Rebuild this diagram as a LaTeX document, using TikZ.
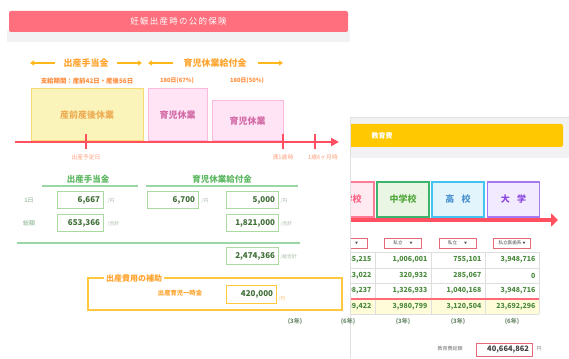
\documentclass[tikz,border=0pt]{standalone}
\usepackage{fontspec}
\setmainfont{Noto Sans CJK JP}
\newfontfamily\spacedfont{Noto Sans CJK JP}[LetterSpace=15]
\usetikzlibrary{arrows.meta}
\newcommand\myfs[1]{\fontsize{#1}{#1}\selectfont}
\definecolor{titleRed}{HTML}{FF6F7D}
\definecolor{arrowOrange}{HTML}{FFB81C}
\definecolor{labOrange}{HTML}{FFA42E}
\definecolor{subOrange}{HTML}{FF8C3C}
\definecolor{yelFill}{HTML}{FBF4BA}
\definecolor{yelBorder}{HTML}{F7DB72}
\definecolor{yelText}{HTML}{EDAD55}
\definecolor{pinkFill}{HTML}{FFE4F6}
\definecolor{pinkBorder}{HTML}{FFB9DF}
\definecolor{pinkText}{HTML}{D26BA6}
\definecolor{lineRed}{HTML}{FF4F60}
\definecolor{axisText}{HTML}{FFA07E}
\definecolor{gHead}{HTML}{5DB862}
\definecolor{gLine}{HTML}{9BD6A5}
\definecolor{gBorder}{HTML}{AAD9A2}
\definecolor{gValue}{HTML}{3F6E37}
\definecolor{gUnit}{HTML}{A3B5A3}
\definecolor{gLabel}{HTML}{7FAF85}
\definecolor{boxOrange}{HTML}{FFC83E}
\definecolor{panelGray}{HTML}{F2F2F5}
\definecolor{eduYellow}{HTML}{FFC800}
\definecolor{elemBorder}{HTML}{FF7A94}
\definecolor{elemFill}{HTML}{FFEAF1}
\definecolor{elemText}{HTML}{FF5F82}
\definecolor{midBorder}{HTML}{3CB46E}
\definecolor{midFill}{HTML}{EAF6E4}
\definecolor{midText}{HTML}{52A83C}
\definecolor{highBorder}{HTML}{45C3F0}
\definecolor{highFill}{HTML}{E3F5FC}
\definecolor{highText}{HTML}{4A92D0}
\definecolor{uniBorder}{HTML}{A679F2}
\definecolor{uniFill}{HTML}{F2EAFF}
\definecolor{uniText}{HTML}{8A45E2}
\definecolor{ddRed}{HTML}{E46A7A}
\definecolor{tValue}{HTML}{4B8A3E}
\definecolor{rowYellow}{HTML}{FFFCDA}
\definecolor{gridGray}{HTML}{DEDEDE}
\definecolor{yearText}{HTML}{6E8C6E}
\begin{document}
\begin{tikzpicture}[x=1pt,y=-1pt,
  orangearrow/.style={draw=arrowOrange,line width=1.3pt,-{Triangle[length=4pt,width=5pt]}},
  toplabel/.style={text=labOrange,font=\myfs{9}\bfseries,inner sep=1pt},
  sublabel/.style={text=subOrange,font=\myfs{5.8}\bfseries,inner sep=0.5pt},
  yelbox/.style={draw=yelBorder,fill=yelFill,line width=1pt,text=yelText,font=\myfs{9}\bfseries},
  pinkbox/.style={draw=pinkBorder,fill=pinkFill,line width=1pt,text=pinkText,font=\myfs{9}\bfseries},
  axislabel/.style={text=axisText,font=\myfs{5.8},inner sep=0.5pt},
  ghead/.style={text=gHead,font=\myfs{8.5}\bfseries,inner sep=1pt},
  gline/.style={draw=gLine,line width=1.3pt},
  valbox/.style={draw=gBorder,fill=white,line width=1pt,minimum height=17pt,inner sep=3pt,align=right,text=gValue,font=\myfs{8}\bfseries},
  unitlabel/.style={text=gUnit,font=\myfs{4.8},inner sep=0.5pt,anchor=west},
  rowlabel/.style={text=gLabel,font=\myfs{6},inner sep=0.5pt},
  schoolbox/.style={line width=1.2pt,minimum width=52pt,minimum height=35pt,font=\myfs{9}\bfseries},
  ddbox/.style={draw=ddRed,fill=white,line width=0.8pt,minimum width=37pt,minimum height=10pt,inner sep=0pt,font=\myfs{4.6},text=black!70},
  tval/.style={anchor=east,text=tValue,font=\myfs{7}\bfseries,inner sep=0.5pt},
  yearlabel/.style={text=yearText,font=\myfs{6}\bfseries,inner sep=0.5pt}]
\useasboundingbox (0,0) rectangle (569,358);
\fill[white] (0,0) rectangle (569,358);

% ---------- left panel ----------
\fill[panelGray] (7,30) rectangle (350,42);
\node[fill=titleRed,rounded corners=2pt,minimum width=339pt,minimum height=21pt,inner sep=0pt,text=white,font=\spacedfont\myfs{8.5}] (title) at (178.5,21.5) {妊娠出産時の公的保険};

\node[toplabel] (lblA) at (86,63) {出産手当金};
\coordinate (a1s) at (55,63); \coordinate (a1e) at (30,63);
\coordinate (a2s) at (117,63); \coordinate (a2e) at (142,63);
\draw[orangearrow] (a1s) -- (a1e);
\draw[orangearrow] (a2s) -- (a2e);
\node[toplabel] (lblB) at (215,63) {育児休業給付金};
\coordinate (b1s) at (173,63); \coordinate (b1e) at (148,63);
\coordinate (b2s) at (258,63); \coordinate (b2e) at (283,63);
\draw[orangearrow] (b1s) -- (b1e);
\draw[orangearrow] (b2s) -- (b2e);

\node[sublabel,font=\myfs{6.4}\bfseries] (subA) at (87,81) {支給期間：産前42日・産後56日};
\node[sublabel] (subB) at (177,81) {180日(67\%)};
\node[sublabel] (subC) at (247,81) {180日(50\%)};

\node[yelbox,minimum width=112pt,minimum height=52pt] (leave1) at (87,115) {産前産後休業};
\node[pinkbox,minimum width=59pt,minimum height=52pt] (leave2) at (177.5,115) {育児休業};
\node[pinkbox,minimum width=71pt,minimum height=40pt] (leave3) at (247.5,121) {育児休業};

\coordinate (tlS) at (15,142); \coordinate (tlE) at (339,142);
\draw[draw=lineRed,line width=2pt,-{Triangle[length=8pt,width=8pt]}] (tlS) -- (tlE);
\foreach \n/\x in {t1/86,t2/283,t3/315}{
  \coordinate (\n a) at (\x,134); \coordinate (\n b) at (\x,149);
  \draw[lineRed,line width=1.3pt] (\n a) -- (\n b);}
\node[axislabel] (ax1) at (86,157) {出産予定日};
\node[axislabel] (ax2) at (283,157) {満1歳時};
\node[axislabel] (ax3) at (323,157) {1歳6ヶ月時};

% green table
\node[ghead] (gh1) at (88,179) {出産手当金};
\node[ghead] (gh2) at (222,179) {育児休業給付金};
\coordinate (u1s) at (42,186); \coordinate (u1e) at (138,186);
\coordinate (u2s) at (146,186); \coordinate (u2e) at (298,186);
\draw[gline] (u1s) -- (u1e);
\draw[gline] (u2s) -- (u2e);

\node[rowlabel] (rl1) at (29,200) {1日};
\node[rowlabel] (rl2) at (29,223) {総額};
\node[valbox,text width=40pt] (v11) at (80,200) {6,667};
\node[unitlabel] (u11) at (107,201) {/円};
\node[valbox,text width=45pt] (v12) at (172.5,200) {6,700};
\node[unitlabel] (u12) at (201,201) {/円};
\node[valbox,text width=46pt] (v13) at (252,200) {5,000};
\node[unitlabel] (u13) at (280,201) {/円};
\node[valbox,text width=40pt] (v21) at (80,223) {653,366};
\node[unitlabel] (u21) at (107,224) {/合計};
\node[valbox,text width=46pt] (v23) at (252,223) {1,821,000};
\node[unitlabel] (u23) at (280,224) {/合計};
\coordinate (gl1) at (17,243); \coordinate (gl2) at (300,243);
\draw[gline] (gl1) -- (gl2);
\node[valbox,text width=46pt] (v33) at (252,256) {2,474,366};
\node[unitlabel] (u33) at (280,257) {/総合計};

% orange box
\draw[boxOrange,line width=1.2pt] (88,278) rectangle (342,310);
\node[fill=white,text=labOrange,font=\myfs{8}\bfseries,inner sep=2pt] (legend) at (134,278) {出産費用の補助};
\node[text=labOrange,font=\myfs{6.3}\bfseries,inner sep=0.5pt] (lump) at (180,293) {出産育児一時金};
\node[valbox,draw=boxOrange,text width=44pt,minimum height=18pt] (vlump) at (251,294) {420,000};
\node[unitlabel,text=labOrange!70] (ulump) at (278,299) {/円};

\node[yearlabel] (yr0) at (295,322) {(3年)};

% ---------- right panel ----------
\fill[white] (350,117) rectangle (569,358);
\begin{scope}
\clip (350,117) rectangle (569,358);
\fill[panelGray] (330,117) rectangle (569,158);
\node[fill=eduYellow,rounded corners=2pt,minimum width=233pt,minimum height=23pt,inner sep=0pt] (eduhead) at (446.5,135.5) {};
\node[text=white,font=\myfs{7}\bfseries,inner sep=0.5pt] (edutitle) at (382,136) {教育費};

\node[schoolbox,draw=elemBorder,fill=elemFill,text=elemText] (elem) at (348,199.5) {小学校};
\node[schoolbox,draw=midBorder,fill=midFill,text=midText] (mid) at (403,199.5) {中学校};
\node[schoolbox,draw=highBorder,fill=highFill,text=highText] (high) at (458,199.5) {高\hspace{0.8em}校};
\node[schoolbox,draw=uniBorder,fill=uniFill,text=uniText] (uni) at (513.5,199.5) {大\hspace{0.8em}学};

\coordinate (raS) at (320,220); \coordinate (raE) at (558,220);
\draw[draw=lineRed,line width=3.5pt,-{Triangle[length=7pt,width=13pt]}] (raS) -- (raE);

\node[ddbox] (dd1) at (348.5,243) {公立\hspace{7pt}{\myfs{3}▼}};
\node[ddbox] (dd2) at (403,243) {私立\hspace{7pt}{\myfs{3}▼}};
\node[ddbox] (dd3) at (457.5,243) {私立\hspace{7pt}{\myfs{3}▼}};
\node[ddbox] (dd4) at (512,243) {私立医歯系\hspace{1pt}{\myfs{3}▼}};

\fill[rowYellow] (320,299) rectangle (539,314);
\foreach \yy in {252,268,283,314}{\draw[gridGray,line width=0.6pt] (320,\yy) -- (539,\yy);}
\foreach \xx in {375,431,485,539}{\draw[gridGray,line width=0.6pt] (\xx,252) -- (\xx,314);}
\draw[lineRed!85,line width=1.5pt] (320,299) -- (539,299);

\node[tval] (c11) at (372,260) {885,215};
\node[tval] (c12) at (428,260) {1,006,001};
\node[tval] (c13) at (482,260) {755,101};
\node[tval] (c14) at (536,260) {3,948,716};
\node[tval] (c21) at (372,275.5) {713,022};
\node[tval] (c22) at (428,275.5) {320,932};
\node[tval] (c23) at (482,275.5) {285,067};
\node[tval] (c24) at (536,275.5) {0};
\node[tval] (c31) at (372,291) {1,598,237};
\node[tval] (c32) at (428,291) {1,326,933};
\node[tval] (c33) at (482,291) {1,040,168};
\node[tval] (c34) at (536,291) {3,948,716};
\node[tval] (c41) at (372,306.5) {9,589,422};
\node[tval] (c42) at (428,306.5) {3,980,799};
\node[tval] (c43) at (482,306.5) {3,120,504};
\node[tval] (c44) at (536,306.5) {23,692,296};

\node[yearlabel] (yr2) at (403,322) {(3年)};
\node[yearlabel] (yr3) at (458,322) {(3年)};
\node[yearlabel] (yr4) at (512,322) {(6年)};

\node[text=black!55,font=\myfs{5},inner sep=0.5pt] (totlabel) at (450,349) {教育費総額};
\node[draw=ddRed,fill=white,line width=1pt,minimum width=56pt,minimum height=13pt,inner sep=2pt,text width=50pt,align=right,font=\myfs{7.5}\bfseries,text=black!75] (totbox) at (504,349.5) {40,664,862};
\node[text=black!50,font=\myfs{5},inner sep=0.5pt] (yen) at (539,349) {円};
\end{scope}
\draw[black!12,line width=0.8pt] (350,358) -- (350,117) -- (569,117);
\node[yearlabel] (yr1) at (348,322) {(6年)};
\end{tikzpicture}
\end{document}
